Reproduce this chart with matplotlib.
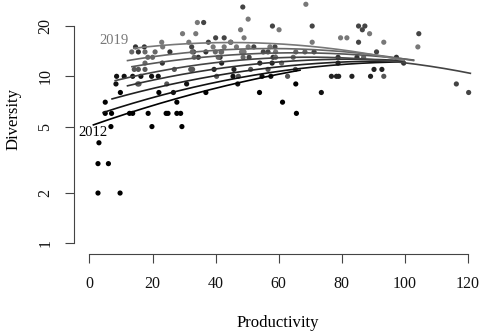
import numpy as np
import matplotlib
matplotlib.use("Agg")
import matplotlib.pyplot as plt

plt.rcParams['font.family'] = ['Liberation Serif', 'DejaVu Serif']

years = [2012, 2013, 2014, 2015, 2016, 2017, 2018, 2019]

x_2012 = [2.7, 9.7, 2.7, 6.0, 3.0, 6.8, 5.0, 5.0, 7.0, 12.7, 13.7, 18.6, 19.8, 24.3, 24.9,
          27.7, 27.7, 28.9, 29.3, 22.0, 9.8, 36.9, 53.9, 61.2, 65.6, 65.4]
y_2012 = [2, 2, 3, 3, 4, 5, 7, 6, 6, 6, 6, 6, 5, 6, 6,
          7, 6, 6, 5, 8, 8, 8, 8, 7, 6, 9]
x_2013 = [8.4, 8.6, 11.0, 26.6, 30.8, 47.0, 73.5, 13.7, 16.3, 19.7, 21.8, 45.5, 54.7, 57.5]
y_2013 = [9, 10, 10, 8, 9, 9, 8, 10, 10, 10, 10, 10, 10, 10]
x_2014 = [39.5, 45.8, 41.9, 54.0, 57.9, 76.7, 78.3, 79.0, 83.2, 89.1, 90.2, 92.7, 78.8]
y_2014 = [11, 11, 12, 12, 12, 10, 10, 10, 10, 10, 11, 11, 12]
x_2015 = [41.4, 34.5, 58.2, 78.8, 84.8, 97.3, 99.6, 36.9, 25.5, 23.1, 33.0, 14.6, 17.4, 15.5]
y_2015 = [13, 13, 13, 13, 13, 13, 12, 14, 14, 12, 14, 15, 15, 14]
x_2016 = [116.3, 120.2, 55.1, 56.6, 58.8, 52.1, 50.6, 71.2, 91.0, 104.4, 85.3, 85.3, 87.3,
          86.5, 70.6, 58.0, 48.6, 36.2, 37.7, 40.0, 42.7, 44.8, 32.4]
y_2016 = [9, 8, 14, 14, 15, 15, 13, 14, 14, 18, 16, 20, 20,
          19, 20, 20, 26, 21, 16, 17, 17, 16, 15]
x_2017 = [15.3, 15.7, 24.5, 14.2, 15.5, 17.6, 26.9, 40.3, 47.2, 32.1, 32.7, 51.1, 56.6,
          62.8, 65.3, 93.3]
y_2017 = [9, 9, 9, 11, 11, 11, 11, 10, 10, 11, 11, 11, 11, 10, 11, 10]
x_2018 = [13.4, 17.6, 20.8, 18.5, 20.0, 17.6, 32.6, 33.2, 40.8, 41.7, 48.7, 59.0, 60.9,
          64.6, 86.9, 65.4, 68.3, 39.9, 41.9]
y_2018 = [14, 14, 14, 13, 13, 12, 14, 13, 13, 14, 13, 13, 12, 13, 13, 14, 14, 14, 14]
x_2019 = [22.9, 23.2, 29.5, 31.5, 33.7, 34.2, 39.2, 42.7, 46.6, 50.3, 57.2, 48.2, 49.0,
          59.0, 47.9, 49.0, 50.3, 60.1, 68.6, 70.6, 79.6, 81.6, 88.8, 93.3, 104.1, 44.7]
y_2019 = [16, 15, 18, 16, 18, 21, 15, 15, 15, 15, 15, 14, 14,
          14, 19, 17, 22, 19, 27, 16, 17, 17, 18, 16, 15, 16]

# fitted curves: start / middle (x=50) / end values
curve_x_start = [1.0, 4.1, 6.9, 11.8, 7.9, 13.2, 11.8, 13.8]
curve_x_end = [67, 100, 100, 100, 121, 103, 103, 100]
curve_v_start = [5.1, 6.05, 7.3, 8.75, 9.4, 11.4, 12.4, 14.7]
curve_v_mid = [9.4, 10.0, 10.8, 11.7, 12.6, 13.6, 14.6, 15.9]
curve_v_end = [10.9, 12.2, 12.3, 12.4, 10.4, 12.5, 12.4, 12.4]
curve_x_mid = 50

xs_all = [x_2012, x_2013, x_2014, x_2015, x_2016, x_2017, x_2018, x_2019]
ys_all = [y_2012, y_2013, y_2014, y_2015, y_2016, y_2017, y_2018, y_2019]

greys = np.linspace(0.0, 0.47, len(years))
colors = [(g, g, g) for g in greys]

fig = plt.figure(figsize=(4.8, 3.32), dpi=100)
W, H = 480, 332
ax = fig.add_axes([73.7 / W, (H - 254) / H, 1 - 73.7 / W, 254 / H])
ax.set_yscale('log')
ax.set_xlim(-5, 123.8)
ax.set_ylim(10 ** (-0.064), 10 ** 1.457)

for xs, ys, c in zip(xs_all, ys_all, colors):
    ax.scatter(xs, ys, s=14, color=c, edgecolors='none', zorder=2)

for i, c in enumerate(colors):
    px = [curve_x_start[i], curve_x_mid, curve_x_end[i]]
    pv = np.log10([curve_v_start[i], curve_v_mid[i], curve_v_end[i]])
    coef = np.polyfit(px, pv, 2)
    xx = np.linspace(curve_x_start[i], curve_x_end[i], 200)
    ax.plot(xx, 10 ** np.polyval(coef, xx), color=c, lw=1.2, zorder=3,
            solid_capstyle='butt')

ax.text(5.6, 4.64, '2012', ha='right', va='center', fontsize=10.5, color=colors[0])
ax.text(12.3, 16.3, '2019', ha='right', va='center', fontsize=10.5, color=colors[-1])

for s in ['top', 'right']:
    ax.spines[s].set_visible(False)
ax.spines['left'].set_bounds(1, 20)
ax.spines['bottom'].set_bounds(0, 120)
for s in ['left', 'bottom']:
    ax.spines[s].set_color('#444444')
    ax.spines[s].set_linewidth(0.8)

ax.set_xticks([0, 20, 40, 60, 80, 100, 120])
ax.set_yticks([1, 2, 5, 10, 20])
ax.set_yticklabels(['1', '2', '5', '10', '20'])
ax.yaxis.set_minor_locator(matplotlib.ticker.NullLocator())
ax.tick_params(direction='out', length=6.7, width=0.8, color='#444444',
               labelsize=11.5, labelcolor='#111111')
ax.tick_params(axis='x', pad=9)
ax.tick_params(axis='y', pad=8)
plt.setp(ax.get_yticklabels(), rotation=90, va='center')
ax.set_facecolor('none')

fig.text(278 / W, 1 - 323 / H, 'Productivity', ha='center', va='center', fontsize=12)
fig.text(14 / W, 1 - 119 / H, 'Diversity', ha='center', va='center', fontsize=12,
         rotation=90)

fig.savefig('out.png', dpi=100)
